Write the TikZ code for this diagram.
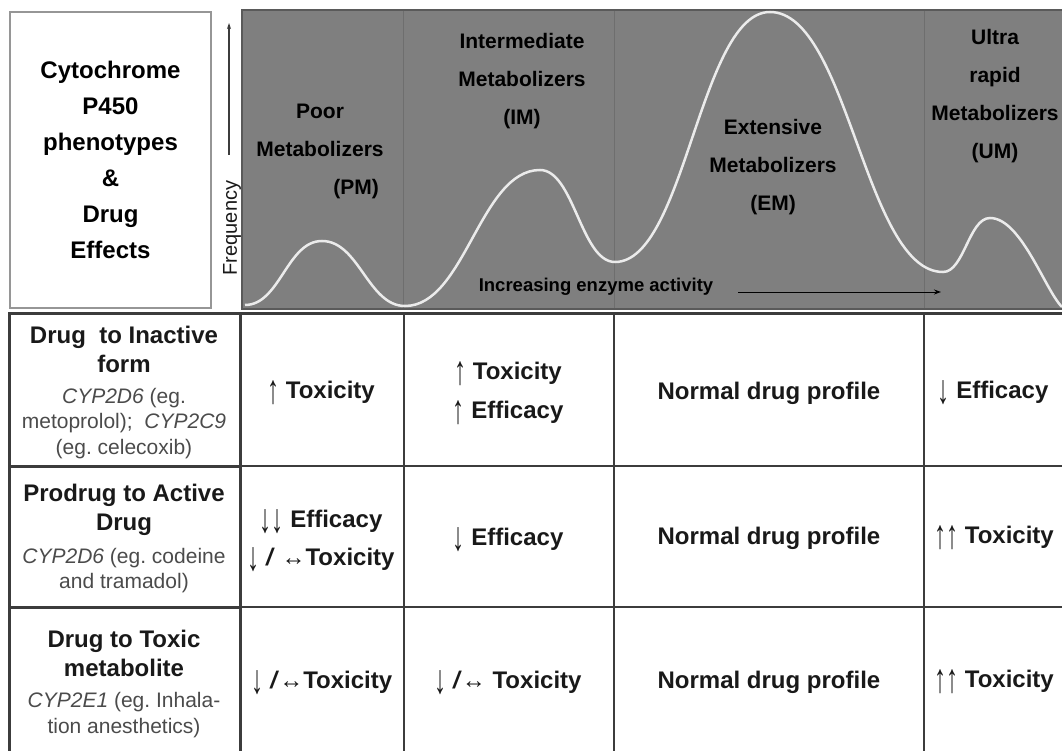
\documentclass[tikz,border=0pt]{standalone}
\usepackage{fontspec}
\setmainfont{Liberation Sans}
\usetikzlibrary{arrows.meta}
\definecolor{panel}{RGB}{127,127,127}
\definecolor{paneledge}{RGB}{90,90,90}
\definecolor{rule}{RGB}{60,60,60}
\definecolor{boxgray}{RGB}{150,150,150}
\definecolor{ink}{RGB}{25,25,25}
\definecolor{subgray}{RGB}{75,75,75}
\newcommand{\arup}{{\mdseries\raisebox{-5pt}{\scalebox{1}[1.7]{↑}}}}
\newcommand{\ardn}{{\mdseries\raisebox{-5pt}{\scalebox{1}[1.7]{↓}}}}
\newcommand{\arlr}{{\mdseries ↔}}
\frenchspacing
\begin{document}
\begin{tikzpicture}
[x=1pt, y=-1pt,
 titlebox/.style={draw=boxgray, line width=2pt, fill=white, minimum width=201pt, minimum height=296pt, align=center, font=\fontsize{24}{36}\selectfont\bfseries},
 lbl/.style={font=\fontsize{21}{38}\selectfont\bfseries, align=center, inner sep=0pt},
 hdr/.style={font=\fontsize{24}{29}\selectfont\bfseries, align=center, inner sep=0pt, text=ink},
 sub/.style={font=\fontsize{21}{25.5}\selectfont, align=center, inner sep=0pt, text=subgray},
 cell/.style={font=\fontsize{24}{39}\selectfont\bfseries, align=center, inner sep=0pt, text=ink},
 divider/.style={draw=black!57, line width=0.8pt},
 grid/.style={draw=rule, line width=2pt},
 heavy/.style={draw=rule, line width=3pt}]
\useasboundingbox (0,0) rectangle (1062,751);
% title box and phenotype panel
\node[titlebox] (title) at (110.5,160) {Cytochrome\\P450\\phenotypes\\\&\\Drug\\Effects};
\draw[fill=panel, draw=paneledge, line width=1.5pt] (242,10) rectangle (1064,309);
\foreach \x in {403,614,924} \draw[divider] (\x,11) -- (\x,308);
\draw[draw=black!8, line width=2.5pt] (245,305) .. controls (280,305) and (287,241) .. (322,241)
  .. controls (359,241) and (368,306) .. (405,306) .. controls (465,306) and (480,170) .. (540,170)
  .. controls (574,170) and (581,262) .. (615,262) .. controls (685,262) and (700,12) .. (770,12)
  .. controls (848,12) and (865,272) .. (943,272) .. controls (964,272) and (969,218) .. (990,218)
  .. controls (1021,218) and (1045,290) .. (1062,307);
\coordinate (f0) at (229,155);
\coordinate (f1) at (229,23);
\draw[-{Stealth[length=6pt,width=4pt]}, draw=rule, line width=1.2pt] (f0) -- (f1);
\node[rotate=90, font=\fontsize{20}{20}\selectfont, inner sep=0pt, text=ink] (freq) at (232,228) {Frequency};
\node[lbl] (pm) at (320,151) {Poor\\Metabolizers\\\hspace*{72pt}(PM)};
\node[lbl] (im) at (522,81) {Intermediate\\Metabolizers\\(IM)};
\node[lbl] (em) at (773,167) {Extensive\\Metabolizers\\(EM)};
\node[lbl] (um) at (995,96) {Ultra\\rapid\\Metabolizers\\(UM)};
\node[font=\fontsize{18.5}{20}\selectfont\bfseries, inner sep=0pt] (inc) at (596,287) {Increasing enzyme activity};
\coordinate (a0) at (738,292);
\coordinate (a1) at (941,292);
\draw[-{Stealth[length=7pt,width=5pt]}, line width=1pt] (a0) -- (a1);
% table
\draw[heavy] (8,313) -- (1062,313);
\draw[heavy] (9.5,313) -- (9.5,751);
\draw[heavy] (240,313) -- (240,751);
\foreach \x in {404,614,924} \draw[grid] (\x,313) -- (\x,751);
\foreach \y in {466,607} {\draw[heavy] (9,\y) -- (240,\y); \draw[grid] (240,\y) -- (1062,\y);}
\node[hdr] (inact) at (124,349.5) {Drug~ to Inactive\\form};
\node[sub] (inact sub) at (124,423.5) {\textit{CYP2D6} (eg.\\metoprolol);~ \textit{CYP2C9}\\(eg. celecoxib)};
\node[hdr] (pro) at (124,509.5) {Prodrug to Active\\Drug};
\node[sub] (pro sub) at (124,570.5) {\textit{CYP2D6} (eg. codeine\\and tramadol)};
\node[hdr] (tox) at (124,653.5) {Drug to Toxic\\metabolite};
\node[sub] (tox sub) at (124,715) {\textit{CYP2E1} (eg. Inhala-\\tion anesthetics)};
\node[cell] (r1pm) at (321,393) {\arup\ Toxicity};
\node[cell] (r1im) at (508,393) {\arup\ Toxicity\\\arup\ Efficacy};
\node[cell] (r1em) at (769,393) {Normal drug profile};
\node[cell] (r1um) at (993,393) {\ardn\ Efficacy};
\node[cell, font=\fontsize{24}{38}\selectfont\bfseries] (r2pm) at (321,541) {\ardn\ardn\ Efficacy\\\ardn\ \textit{/} \arlr Toxicity};
\node[cell] (r2im) at (508,540) {\ardn\ Efficacy};
\node[cell] (r2em) at (769,538) {Normal drug profile};
\node[cell] (r2um) at (994,538) {\arup\arup\ Toxicity};
\node[cell] (r3pm) at (322,683) {\ardn\ \textit{/}\arlr Toxicity};
\node[cell] (r3im) at (508,683) {\ardn\ \textit{/}\arlr\ Toxicity};
\node[cell] (r3em) at (769,682) {Normal drug profile};
\node[cell] (r3um) at (994,682) {\arup\arup\ Toxicity};
\end{tikzpicture}
\end{document}
